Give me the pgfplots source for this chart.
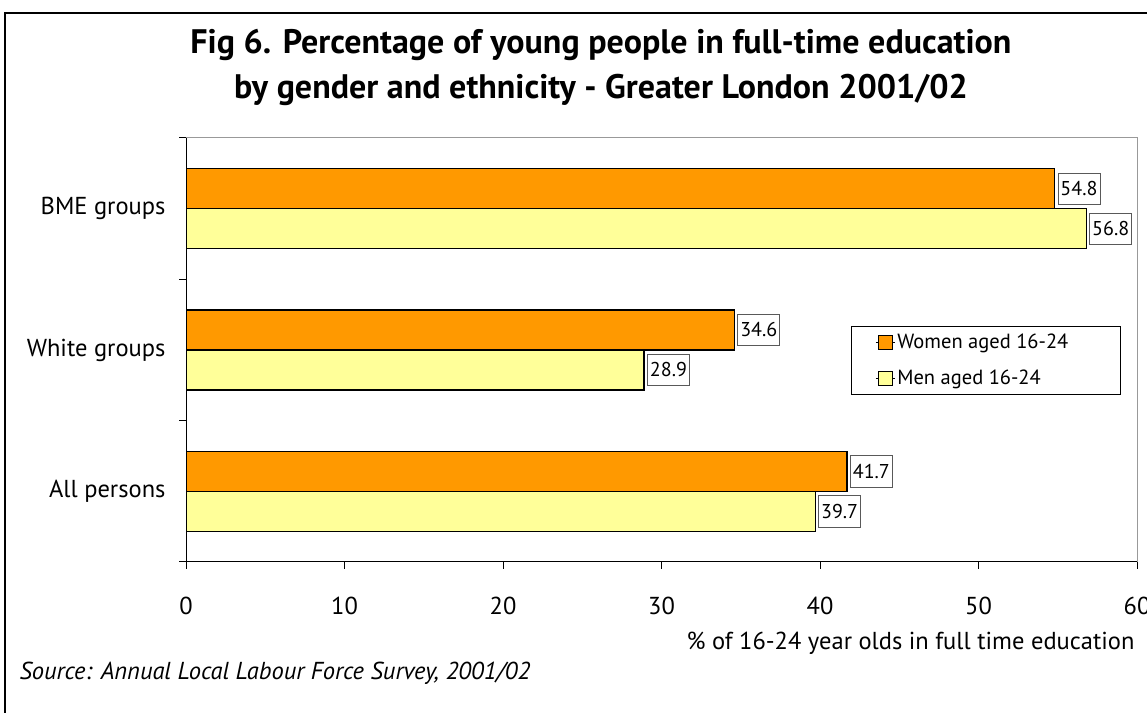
\documentclass[border=0pt]{standalone}
\usepackage{fontspec}
\setmainfont{PT Sans}
\usepackage{pgfplots}
\pgfplotsset{compat=1.18}
\definecolor{barorange}{HTML}{FF9900}
\definecolor{baryellow}{HTML}{FFFF99}
\begin{document}
\begin{tikzpicture}[x=1bp,y=1bp]
\path[use as bounding box] (0,0) rectangle (1147,713);
\draw[line width=2bp] (5,-10) -- (5,700) -- (1160,700);
\node[align=center, font=\fontsize{34bp}{45bp}\selectfont\bfseries] at (601,646) {Fig 6. Percentage of young people in full-time education\\by gender and ethnicity - Greater London 2001/02};
\node[anchor=west, font=\fontsize{24.5bp}{28bp}\selectfont\itshape] at (16,40) {Source: Annual Local Labour Force Survey, 2001/02};
\begin{axis}[
  at={(186bp,151bp)}, anchor=south west,
  scale only axis, width=951bp, height=424bp,
  xbar, bar width=40bp,
  xmin=0, xmax=60, ymin=-0.5, ymax=2.5,
  xtick={0,10,20,30,40,50,60},
  ytick={-0.5,0.5,1.5,2.5}, yticklabels={},
  extra y ticks={0,1,2},
  extra y tick labels={All persons, White groups, BME groups},
  extra y tick style={major tick length=0pt, yticklabel style={xshift=-17bp}},
  xtick pos=bottom, ytick pos=left,
  tick align=outside, major tick length=7bp,
  tick style={black, line width=1bp},
  axis line style={draw=gray!80, line width=1bp},
  /pgf/number format/assume math mode=true,
  ticklabel style={font=\fontsize{24.5bp}{28bp}\selectfont},
  xticklabel style={yshift=-25bp},
  xlabel={\% of 16-24 year olds in full time education},
  xlabel style={at={(axis description cs:1,0)}, anchor=east, yshift=-81bp, xshift=1bp, font=\fontsize{24.5bp}{28bp}\selectfont},
  point meta=x,
  nodes near coords={\pgfmathprintnumber[fixed,precision=1,fixed zerofill]{\pgfplotspointmeta}},
  nodes near coords style={draw=gray!70!black, fill=white, line width=0.8bp, font=\fontsize{20bp}{23bp}\selectfont, inner xsep=2.5bp, inner ysep=8.5bp, anchor=west, xshift=3bp},
  legend style={at={(0.699,0.557)}, anchor=north west, draw=black, line width=0.8bp, font=\fontsize{20.5bp}{24bp}\selectfont, inner xsep=24bp, inner ysep=6bp, row sep=16bp},
  legend cell align=left,
]
\addplot[fill=barorange, draw=black, line width=1.2bp, bar shift=20bp,
  legend image code/.code={\path (0bp,0bp) -- (19bp,0bp); \draw[fill=barorange, draw=black, line width=0.8bp] (3bp,-7bp) rectangle (17bp,7bp);}]
  coordinates {(41.7,0) (34.6,1) (54.8,2)};
\addplot[fill=baryellow, draw=black, line width=1.2bp, bar shift=-20bp,
  legend image code/.code={\path (0bp,0bp) -- (19bp,0bp); \draw[fill=baryellow, draw=black, line width=0.8bp] (3bp,-7bp) rectangle (17bp,7bp);}]
  coordinates {(39.7,0) (28.9,1) (56.8,2)};
\legend{Women aged 16-24\hspace*{26bp}, Men aged 16-24}
\draw[black, line width=1.2bp] (rel axis cs:0,1) -- (rel axis cs:0,0) -- (rel axis cs:1,0);
\end{axis}
\end{tikzpicture}
\end{document}
